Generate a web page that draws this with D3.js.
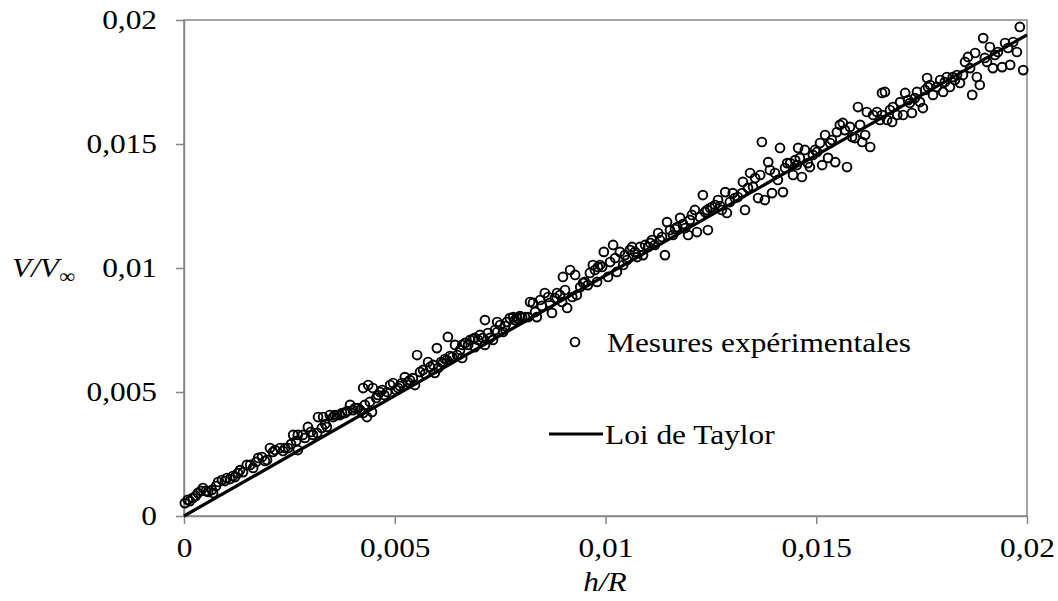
<!DOCTYPE html>
<html><head><meta charset="utf-8">
<script src="https://cdn.jsdelivr.net/npm/d3@7"></script>
<style>
body{margin:0;background:#fff}
svg{display:block}
</style>
</head><body><svg id="c" width="1058" height="601"></svg>
<script>
// h/R values of the measurements
const hR = [
0.02e-3,0.09e-3,0.14e-3,0.21e-3,0.28e-3,0.33e-3,0.40e-3,0.45e-3,0.52e-3,0.57e-3,0.66e-3,0.69e-3,0.76e-3,0.81e-3,0.90e-3,0.97e-3,1.02e-3,1.09e-3,1.16e-3,1.21e-3,1.28e-3,1.33e-3,1.40e-3,1.49e-3,1.57e-3,1.64e-3,1.71e-3,1.76e-3,1.85e-3,1.92e-3,1.97e-3,2.04e-3,2.11e-3,2.16e-3,2.28e-3,2.35e-3,2.40e-3,2.47e-3,2.54e-3,2.59e-3,2.66e-3,2.70e-3,2.70e-3,2.82e-3,2.87e-3,2.94e-3,3.01e-3,3.06e-3,3.16e-3,3.18e-3,3.27e-3,3.30e-3,3.35e-3,
3.39e-3,3.46e-3,3.54e-3,3.58e-3,3.63e-3,3.70e-3,3.75e-3,3.82e-3,3.87e-3,3.94e-3,4.01e-3,4.06e-3,4.13e-3,4.18e-3,4.25e-3,4.25e-3,4.29e-3,4.34e-3,4.37e-3,4.41e-3,4.46e-3,4.48e-3,4.56e-3,4.60e-3,4.65e-3,4.70e-3,4.75e-3,4.82e-3,4.89e-3,4.96e-3,5.03e-3,5.08e-3,5.12e-3,5.17e-3,5.24e-3,5.31e-3,5.36e-3,5.43e-3,5.48e-3,5.53e-3,5.60e-3,5.67e-3,5.72e-3,5.79e-3,5.84e-3,5.91e-3,5.95e-3,6.00e-3,6.03e-3,6.10e-3,6.14e-3,6.19e-3,6.24e-3,6.26e-3,6.31e-3,6.36e-3,6.43e-3,6.48e-3,6.55e-3,6.60e-3,
6.60e-3,6.67e-3,6.74e-3,6.79e-3,6.86e-3,6.90e-3,6.90e-3,6.98e-3,7.02e-3,7.09e-3,7.14e-3,7.14e-3,7.21e-3,7.26e-3,7.33e-3,7.38e-3,7.43e-3,7.43e-3,7.50e-3,7.57e-3,7.62e-3,7.66e-3,7.73e-3,7.81e-3,7.85e-3,7.90e-3,7.97e-3,8.02e-3,8.09e-3,8.16e-3,8.21e-3,8.28e-3,8.33e-3,8.37e-3,8.45e-3,8.49e-3,8.56e-3,8.64e-3,8.68e-3,8.73e-3,8.80e-3,8.85e-3,8.92e-3,8.97e-3,8.99e-3,9.04e-3,9.09e-3,9.16e-3,9.21e-3,9.28e-3,9.32e-3,9.40e-3,9.47e-3,9.51e-3,9.58e-3,9.63e-3,9.70e-3,9.75e-3,9.80e-3,9.82e-3,9.87e-3,
9.92e-3,9.96e-3,10.06e-3,10.11e-3,10.18e-3,10.23e-3,10.27e-3,10.34e-3,10.42e-3,10.46e-3,10.51e-3,10.58e-3,10.63e-3,10.70e-3,10.75e-3,10.82e-3,10.89e-3,10.94e-3,11.01e-3,11.06e-3,11.10e-3,11.17e-3,11.25e-3,11.29e-3,11.34e-3,11.41e-3,11.46e-3,11.53e-3,11.60e-3,11.65e-3,11.70e-3,11.77e-3,11.84e-3,11.89e-3,11.96e-3,12.00e-3,12.05e-3,12.12e-3,12.17e-3,12.24e-3,12.31e-3,12.36e-3,12.41e-3,12.43e-3,12.48e-3,12.53e-3,12.60e-3,12.67e-3,12.72e-3,12.76e-3,12.84e-3,12.88e-3,12.95e-3,13.02e-3,13.07e-3,13.14e-3,13.24e-3,13.26e-3,13.31e-3,
13.38e-3,13.43e-3,13.50e-3,13.55e-3,13.62e-3,13.67e-3,13.71e-3,13.78e-3,13.86e-3,13.90e-3,13.95e-3,14.02e-3,14.09e-3,14.14e-3,14.21e-3,14.26e-3,14.31e-3,14.38e-3,14.45e-3,14.50e-3,14.54e-3,14.57e-3,14.61e-3,14.66e-3,14.73e-3,14.80e-3,14.85e-3,14.92e-3,14.97e-3,15.02e-3,15.09e-3,15.14e-3,15.21e-3,15.28e-3,15.33e-3,15.37e-3,15.45e-3,15.49e-3,15.56e-3,15.63e-3,15.68e-3,15.73e-3,15.80e-3,15.85e-3,15.92e-3,15.99e-3,16.04e-3,16.09e-3,16.16e-3,16.20e-3,16.28e-3,16.35e-3,16.44e-3,16.51e-3,16.56e-3,
16.56e-3,16.63e-3,16.68e-3,16.75e-3,16.80e-3,16.82e-3,16.92e-3,16.99e-3,17.06e-3,17.11e-3,17.18e-3,17.22e-3,17.27e-3,17.34e-3,17.39e-3,17.46e-3,17.53e-3,17.58e-3,17.63e-3,17.65e-3,17.70e-3,17.77e-3,17.86e-3,17.94e-3,18.01e-3,18.05e-3,18.10e-3,18.17e-3,18.24e-3,18.29e-3,18.34e-3,18.41e-3,18.48e-3,18.53e-3,18.60e-3,18.65e-3,18.70e-3,18.77e-3,18.81e-3,18.88e-3,18.96e-3,19.00e-3,19.05e-3,19.12e-3,19.19e-3,19.24e-3,19.31e-3,19.41e-3,19.48e-3,19.55e-3,19.60e-3,19.67e-3,19.76e-3,19.83e-3,19.91e-3
];
// V/V∞ values of the measurements
const vRatio = [
0.52e-3,0.65e-3,0.60e-3,0.73e-3,0.81e-3,0.93e-3,1.01e-3,1.13e-3,1.01e-3,0.97e-3,1.05e-3,0.93e-3,1.21e-3,1.37e-3,1.45e-3,1.41e-3,1.53e-3,1.49e-3,1.61e-3,1.57e-3,1.73e-3,1.85e-3,1.77e-3,2.06e-3,2.06e-3,1.94e-3,2.18e-3,2.34e-3,2.38e-3,2.22e-3,2.26e-3,2.74e-3,2.58e-3,2.66e-3,2.74e-3,2.62e-3,2.74e-3,2.74e-3,2.90e-3,3.27e-3,3.02e-3,3.27e-3,2.66e-3,3.27e-3,3.15e-3,3.59e-3,3.39e-3,3.27e-3,3.35e-3,3.99e-3,3.55e-3,3.99e-3,3.71e-3,
3.59e-3,4.07e-3,3.99e-3,4.07e-3,4.07e-3,4.07e-3,4.15e-3,4.15e-3,4.23e-3,4.48e-3,4.27e-3,4.35e-3,4.35e-3,4.27e-3,4.15e-3,5.16e-3,4.48e-3,3.99e-3,5.28e-3,4.60e-3,4.19e-3,5.16e-3,4.76e-3,4.88e-3,5.00e-3,5.08e-3,4.88e-3,5.00e-3,5.28e-3,5.36e-3,5.08e-3,5.16e-3,5.24e-3,5.36e-3,5.60e-3,5.40e-3,5.48e-3,5.56e-3,5.28e-3,6.49e-3,5.81e-3,5.89e-3,5.73e-3,6.21e-3,6.01e-3,6.09e-3,5.77e-3,6.77e-3,5.97e-3,6.21e-3,6.17e-3,6.33e-3,6.29e-3,7.22e-3,6.45e-3,6.41e-3,6.90e-3,6.49e-3,6.69e-3,6.90e-3,
6.37e-3,6.98e-3,6.90e-3,7.10e-3,7.14e-3,7.18e-3,6.81e-3,7.10e-3,7.30e-3,7.18e-3,6.90e-3,7.90e-3,7.38e-3,7.18e-3,7.10e-3,7.50e-3,7.42e-3,7.82e-3,7.70e-3,7.42e-3,7.66e-3,7.82e-3,7.98e-3,8.02e-3,7.90e-3,7.98e-3,8.06e-3,8.02e-3,8.02e-3,8.02e-3,8.63e-3,8.59e-3,8.23e-3,8.02e-3,8.71e-3,8.47e-3,8.99e-3,8.83e-3,8.59e-3,8.19e-3,8.79e-3,8.99e-3,8.91e-3,8.63e-3,9.64e-3,9.11e-3,8.39e-3,9.92e-3,8.83e-3,9.72e-3,8.91e-3,9.23e-3,9.40e-3,9.44e-3,9.31e-3,9.80e-3,10.12e-3,9.92e-3,9.44e-3,10.04e-3,10.12e-3,
10.04e-3,10.65e-3,9.64e-3,10.24e-3,10.93e-3,10.40e-3,9.84e-3,10.65e-3,10.12e-3,10.52e-3,10.32e-3,10.73e-3,10.85e-3,10.65e-3,10.44e-3,10.85e-3,10.52e-3,10.93e-3,10.85e-3,11.01e-3,11.13e-3,10.93e-3,11.41e-3,11.13e-3,11.25e-3,10.52e-3,11.85e-3,11.53e-3,11.33e-3,11.57e-3,11.65e-3,12.02e-3,11.77e-3,11.61e-3,11.33e-3,11.94e-3,12.14e-3,12.34e-3,11.45e-3,12.06e-3,12.94e-3,12.26e-3,12.34e-3,11.53e-3,12.42e-3,12.46e-3,12.54e-3,12.74e-3,12.50e-3,12.34e-3,13.06e-3,12.22e-3,12.66e-3,13.02e-3,12.82e-3,12.86e-3,13.02e-3,13.47e-3,12.34e-3,
13.23e-3,13.83e-3,13.27e-3,13.63e-3,12.82e-3,13.75e-3,15.08e-3,12.74e-3,14.27e-3,13.95e-3,13.02e-3,13.83e-3,13.55e-3,14.84e-3,13.06e-3,14.03e-3,14.23e-3,14.23e-3,13.75e-3,14.35e-3,14.15e-3,14.84e-3,14.44e-3,13.67e-3,14.76e-3,14.23e-3,14.07e-3,14.56e-3,14.76e-3,14.68e-3,15.04e-3,14.15e-3,15.36e-3,14.44e-3,15.04e-3,15.16e-3,14.27e-3,15.48e-3,15.77e-3,15.85e-3,15.56e-3,14.07e-3,15.69e-3,15.28e-3,15.24e-3,16.49e-3,15.77e-3,15.08e-3,15.36e-3,16.29e-3,14.88e-3,16.17e-3,16.29e-3,15.97e-3,17.06e-3,
16.17e-3,17.10e-3,15.97e-3,16.37e-3,15.89e-3,16.49e-3,16.17e-3,16.69e-3,16.17e-3,17.06e-3,16.77e-3,16.65e-3,16.25e-3,16.85e-3,17.10e-3,16.69e-3,16.45e-3,17.18e-3,17.66e-3,17.30e-3,17.38e-3,16.98e-3,17.30e-3,17.58e-3,17.10e-3,17.50e-3,17.70e-3,17.30e-3,17.70e-3,17.58e-3,17.78e-3,17.46e-3,17.78e-3,18.31e-3,18.51e-3,18.06e-3,16.98e-3,18.67e-3,17.70e-3,17.38e-3,19.27e-3,18.47e-3,18.31e-3,18.91e-3,18.06e-3,18.59e-3,18.71e-3,18.10e-3,19.07e-3,18.87e-3,18.19e-3,19.11e-3,18.71e-3,19.72e-3,17.98e-3
];
// Taylor law line
const taylorH = [0, 0.02];
const taylorV = [0, 0.0194];

const xTicks = [0, 0.005, 0.01, 0.015, 0.02];
const yTicks = [0, 0.005, 0.01, 0.015, 0.02];
const xTickLabels = ["0", "0,005", "0,01", "0,015", "0,02"];
const yTickLabels = ["0", "0,005", "0,01", "0,015", "0,02"];
const legendLabels = ["Mesures expérimentales", "Loi de Taylor"];

const W = 1058, H = 601;
const m = {left: 184, right: 1027, top: 20, bottom: 516};
const FONT = "Liberation Serif";
const fontSize = 28;
const stretch = 1.12;
const svg = d3.select("#c");
svg.append("rect").attr("width", W).attr("height", H).attr("fill", "#fff");

const x = d3.scaleLinear().domain([0, 0.02]).range([m.left, m.right]);
const y = d3.scaleLinear().domain([0, 0.02]).range([m.bottom, m.top]);
const axisColor = "#868686";

// frame
svg.append("rect")
  .attr("x", m.left).attr("y", m.top)
  .attr("width", m.right - m.left).attr("height", m.bottom - m.top)
  .attr("fill", "none").attr("stroke", axisColor).attr("stroke-width", 1.5);

const gx = svg.append("g").attr("transform", `translate(0,${m.bottom})`)
  .call(d3.axisBottom(x).tickValues(xTicks).tickFormat((d, i) => xTickLabels[i])
    .tickSize(8).tickSizeOuter(0).tickPadding(13));
const gy = svg.append("g").attr("transform", `translate(${m.left},0)`)
  .call(d3.axisLeft(y).tickValues(yTicks).tickFormat((d, i) => yTickLabels[i])
    .tickSize(8).tickSizeOuter(0).tickPadding(19));
[gx, gy].forEach(g => {
  g.attr("font-family", FONT).attr("font-size", fontSize);
  g.select(".domain").attr("stroke", axisColor).attr("stroke-width", 1.5);
  g.selectAll(".tick line").attr("stroke", axisColor).attr("stroke-width", 1.5);
  g.selectAll(".tick text").attr("fill", "#000");
});

// Taylor line
const taylor = taylorH.map((h, i) => [h, taylorV[i]]);
svg.append("path").datum(taylor)
  .attr("d", d3.line().x(d => x(d[0])).y(d => y(d[1])))
  .attr("fill", "none").attr("stroke", "#000").attr("stroke-width", 3.2);

// measurements
const pts = hR.map((h, i) => [h, vRatio[i]]);
svg.append("g").selectAll("circle").data(pts).join("circle")
  .attr("cx", d => x(d[0])).attr("cy", d => y(d[1])).attr("r", 4.4)
  .attr("fill", "none").attr("stroke", "#000").attr("stroke-width", 1.9);

const T = (sel) => sel.attr("font-family", FONT).attr("font-size", fontSize).attr("fill", "#000");

// axis titles
T(svg.append("text")).attr("x", 605).attr("y", 591).attr("text-anchor", "middle")
  .attr("font-style", "italic").text("h/R");
const yt = T(svg.append("text")).attr("x", 12).attr("y", 277);
yt.append("tspan").attr("font-style", "italic").text("V/V");
yt.append("tspan").attr("dy", 6).attr("font-size", 20).text("∞");

// legend
svg.append("circle").attr("cx", 575).attr("cy", 342).attr("r", 4.4)
  .attr("fill", "none").attr("stroke", "#000").attr("stroke-width", 1.9);
T(svg.append("text")).attr("x", 607).attr("y", 352).text(legendLabels[0]);
svg.append("line").attr("x1", 549).attr("x2", 603).attr("y1", 434).attr("y2", 434)
  .attr("stroke", "#000").attr("stroke-width", 3.2);
T(svg.append("text")).attr("x", 605).attr("y", 444).text(legendLabels[1]);

// horizontal stretch of the lettering, as in the reference rendering
svg.selectAll("text").each(function() {
  const w = this.getComputedTextLength();
  d3.select(this).attr("textLength", w * stretch).attr("lengthAdjust", "spacingAndGlyphs");
});
</script>
</body></html>
